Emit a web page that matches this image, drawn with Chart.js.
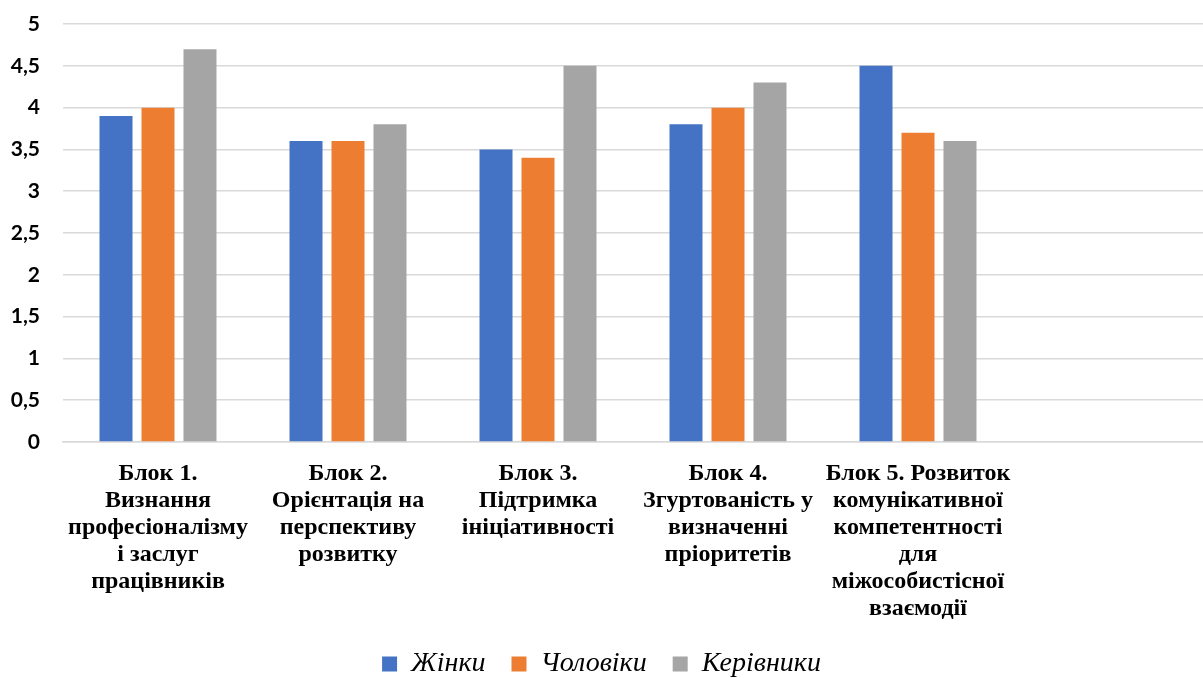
<!DOCTYPE html>
<html>
<head>
<meta charset="utf-8">
<script src="https://cdn.jsdelivr.net/npm/chart.js@4"></script>
<style>
  html, body { margin: 0; padding: 0; background: #fff; }
  #wrap { width: 1203px; height: 678px; }
</style>
</head>
<body>
<div id="wrap"><canvas id="chart" width="1203" height="678"></canvas></div>
<script>
'use strict'

const categories = [
	['Блок 1.', 'Визнання', 'професіоналізму', 'і заслуг', 'працівників'],
	['Блок 2.', 'Орієнтація на', 'перспективу', 'розвитку'],
	['Блок 3.', 'Підтримка', 'ініціативності'],
	['Блок 4.', 'Згуртованість у', 'визначенні', 'пріоритетів'],
	['Блок 5. Розвиток', 'комунікативної', 'компетентності', 'для', 'міжособистісної', 'взаємодії'],
	'',
];
const women = [3.9, 3.6, 3.5, 3.8, 4.5, null];
const men = [4.0, 3.6, 3.4, 4.0, 3.7, null];
const managers = [4.7, 3.8, 4.5, 4.3, 3.6, null];
const seriesNames = ['Жінки', 'Чоловіки', 'Керівники'];

const colors = {
	blue: '#4472C4',
	orange: '#ED7D31',
	gray: '#A5A5A5',
	grid: '#D9D9D9',
	text: '#000',
};

Chart.defaults.color = colors.text;
Chart.defaults.animation = false;

const ctx = document.getElementById('chart').getContext('2d');

let chart = new Chart(ctx, {
	type: 'bar',
	data: {
		labels: categories,
		datasets: [
			{ label: seriesNames[0], data: women, backgroundColor: colors.blue },
			{ label: seriesNames[1], data: men, backgroundColor: colors.orange },
			{ label: seriesNames[2], data: managers, backgroundColor: colors.gray },
		],
	},
	options: {
		responsive: false,
		categoryPercentage: 0.663,
		barPercentage: 0.786,
		layout: {
			padding: { top: 23, right: 0, left: 0, bottom: -10 },
		},
		plugins: {
			tooltip: false,
			legend: {
				position: 'bottom',
				labels: {
					boxWidth: 15,
					boxHeight: 15,
					padding: 26,
					color: '#000',
					font: { family: '"Liberation Serif", "DejaVu Serif", serif', size: 28, style: 'italic' },
				},
			},
		},
		scales: {
			y: {
				min: 0,
				max: 5,
				afterFit: (axis) => { axis.width = 63; },
				border: { display: false },
				grid: { color: colors.grid, lineWidth: 1.5, tickLength: 0 },
				ticks: {
					stepSize: 0.5,
					padding: 23,
					font: { family: 'Lato, "Open Sans", sans-serif', size: 21, weight: 'bold', lineHeight: 0.1 },
					callback: (v) => String(v).replace('.', ','),
				},
			},
			x: {
				afterFit: (axis) => { axis.height = 182; },
				border: { color: colors.grid, width: 1.5 },
				grid: { display: false },
				ticks: {
					maxRotation: 0,
					autoSkip: false,
					padding: 10,
					font: { family: '"Liberation Serif", "DejaVu Serif", serif', size: 24, weight: 'bold', lineHeight: 1.125 },
				},
			},
		},
	},
});
</script>
</body>
</html>
